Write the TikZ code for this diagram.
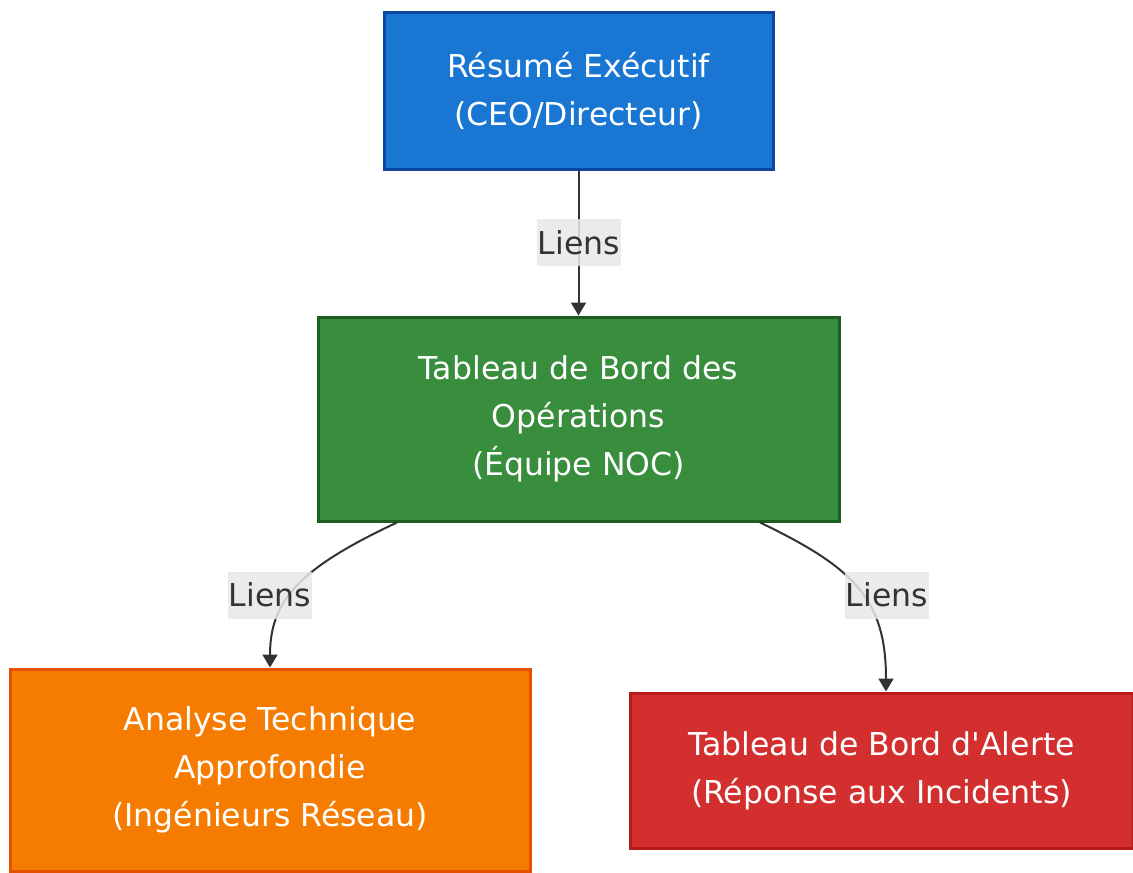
\documentclass[tikz,border=0pt]{standalone}
\usepackage{fontspec}
\setmainfont{DejaVu Sans}
\usetikzlibrary{arrows.meta,calc}
\definecolor{bluefill}{HTML}{1976D2}
\definecolor{blueline}{HTML}{0D47A1}
\definecolor{greenfill}{HTML}{388E3C}
\definecolor{greenline}{HTML}{1B5E20}
\definecolor{orangefill}{HTML}{F57C00}
\definecolor{orangeline}{HTML}{E65100}
\definecolor{redfill}{HTML}{D32F2F}
\definecolor{redline}{HTML}{B71C1C}
\definecolor{edgecol}{HTML}{333333}
\definecolor{lblbg}{HTML}{E8E8E8}
\tikzset{
  box/.style={draw, line width=3pt, rectangle, align=center, text=white,
    font=\fontsize{31.5}{48}\selectfont, inner sep=0pt},
  edge/.style={draw=edgecol, line width=2pt, -{Triangle[length=13pt,width=15pt]}},
  lbl/.style={fill=lblbg, fill opacity=0.85, text opacity=1, text=edgecol,
    font=\fontsize{31.5}{48}\selectfont, inner xsep=1pt, inner ysep=0pt,
    text height=35pt, text depth=12pt}
}
\begin{document}
\begin{tikzpicture}[x=1pt,y=-1pt]
\useasboundingbox[fill=white] (0,0) rectangle (1133,873);
\node[box, fill=bluefill, draw=blueline, minimum width=389pt, minimum height=157pt]
  (exec) at (578.5,90.5) {Résumé Exécutif\\(CEO/Directeur)};
\node[box, fill=greenfill, draw=greenline, minimum width=521pt, minimum height=204pt]
  (ops) at (578.5,419) {Tableau de Bord des\\Opérations\\(Équipe NOC)};
\node[box, fill=orangefill, draw=orangeline, minimum width=520pt, minimum height=202pt]
  (tech) at (270,770) {Analyse Technique\\Approfondie\\(Ingénieurs Réseau)};
\node[box, fill=redfill, draw=redline, minimum width=503pt, minimum height=155pt]
  (alert) at (881.5,770.5) {Tableau de Bord d\textquotesingle Alerte\\(Réponse aux Incidents)};

\draw[edge] (exec.south) -- (ops.north);
\node[lbl] (l1) at (579,242.5) {Liens};

\coordinate (s2) at ($(ops.south)+(-181.5,0)$);
\draw[edge] (s2) .. controls (300,568) and (270,600) .. (tech.north);
\node[lbl] (l2) at (270,595) {Liens};

\coordinate (s3) at ($(ops.south)+(181.5,0)$);
\coordinate (e3) at ($(alert.north)+(4.5,0)$);
\draw[edge] (s3) .. controls (855,568) and (886,600) .. (e3);
\node[lbl] (l3) at (887,595) {Liens};
\end{tikzpicture}
\end{document}
